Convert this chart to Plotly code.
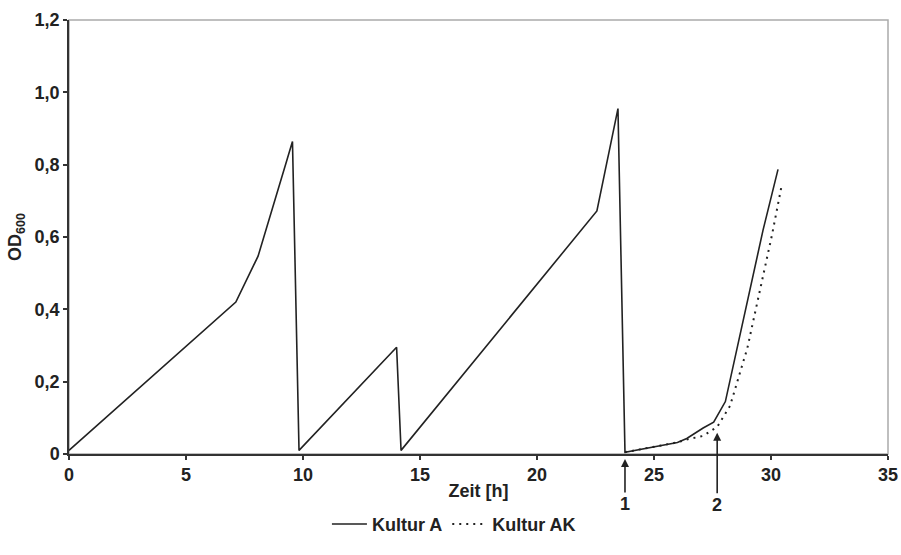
import plotly.graph_objects as go

# Kultur A (solid)
time_a = [0, 7.13, 8.08, 9.55, 9.83, 14.0, 14.19, 22.56, 23.46, 23.76,
          26.0, 26.4, 27.1, 27.55, 28.05, 29.66, 30.3]
od_a = [0.01, 0.42, 0.547, 0.864, 0.01, 0.295, 0.01, 0.672, 0.955, 0.005,
        0.032, 0.043, 0.072, 0.088, 0.145, 0.619, 0.787]

# Kultur AK (dotted)
time_ak = [23.76, 26.0, 26.4, 27.1, 27.7, 28.25, 28.99, 30.04, 30.47]
od_ak = [0.005, 0.032, 0.04, 0.05, 0.075, 0.133, 0.293, 0.605, 0.747]

# arrow markers
marker_labels = ["1", "2"]
marker_x = [23.76, 27.7]
marker_y = [0.0, 0.059]

y_tickvals = [0, 0.2, 0.4, 0.6, 0.8, 1.0, 1.2]
y_ticktext = ["0", "0,2", "0,4", "0,6", "0,8", "1,0", "1,2"]
x_tickvals = [0, 5, 10, 15, 20, 25, 30, 35]

FONT = "Liberation Sans, Arial, sans-serif"
FS = 18
AXC = "#333333"
TXT = "#222222"

fig = go.Figure()
fig.add_trace(go.Scatter(x=time_a, y=od_a, mode="lines", name="Kultur A",
                         line=dict(color="#222222", width=1.6)))
fig.add_trace(go.Scatter(x=time_ak, y=od_ak, mode="lines", name="Kultur AK",
                         line=dict(color="#222222", width=2, dash="2px,5px")))

ay_offsets = [50, 72]
standoffs = [5, 0]
for lab, xx, yy, ay, so in zip(marker_labels, marker_x, marker_y, ay_offsets, standoffs):
    fig.add_annotation(x=xx, y=yy, xref="x", yref="y", text=lab,
                       showarrow=True, ax=0, ay=ay, arrowhead=2, arrowsize=1,
                       arrowwidth=1.6, arrowcolor="#222222", standoff=so,
                       font=dict(family=FONT, size=FS, color=TXT, weight="bold"))

# grey frame top/right
fig.add_shape(type="rect", xref="paper", yref="paper", x0=0, y0=0, x1=1, y1=1,
              line=dict(color="#aaaaaa", width=1.5), layer="below")

fig.update_layout(
    width=901, height=555,
    margin=dict(l=69, r=13, t=20, b=85),
    plot_bgcolor="white", paper_bgcolor="white",
    font=dict(family=FONT, size=FS, color=TXT, weight="bold"),
    showlegend=True,
    legend=dict(orientation="h", x=0.47, xanchor="center", y=-0.162, yanchor="middle",
                font=dict(family=FONT, size=FS, color=TXT, weight="bold"),
                itemwidth=35, tracegroupgap=0),
    xaxis=dict(range=[0, 35], tickvals=x_tickvals, showgrid=False, zeroline=False,
               automargin=False,
               showline=True, linecolor=AXC, linewidth=1.5, ticks="outside",
               ticklen=4, tickcolor=AXC, tickwidth=1.5,
               tickfont=dict(family=FONT, size=FS, color=TXT, weight="bold"),
               title=dict(text="Zeit [h]", standoff=0,
                          font=dict(family=FONT, size=FS, color=TXT, weight="bold"))),
    yaxis=dict(range=[0, 1.2], tickvals=y_tickvals, ticktext=y_ticktext, showgrid=False,
               zeroline=False, showline=True, linecolor=AXC, linewidth=1.5,
               automargin=False,
               ticks="outside", ticklen=4, tickcolor=AXC, tickwidth=1.5,
               tickfont=dict(family=FONT, size=FS, color=TXT, weight="bold"),
               title=dict(text="OD<sub>600</sub>", standoff=8,
                          font=dict(family=FONT, size=FS, color=TXT, weight="bold"))),
)

fig.write_html(
    "out.html",
    config={"displayModeBar": False},
    post_script="document.body.style.margin='0';document.body.style.padding='0';"
                "document.documentElement.style.overflow='hidden';",
)
